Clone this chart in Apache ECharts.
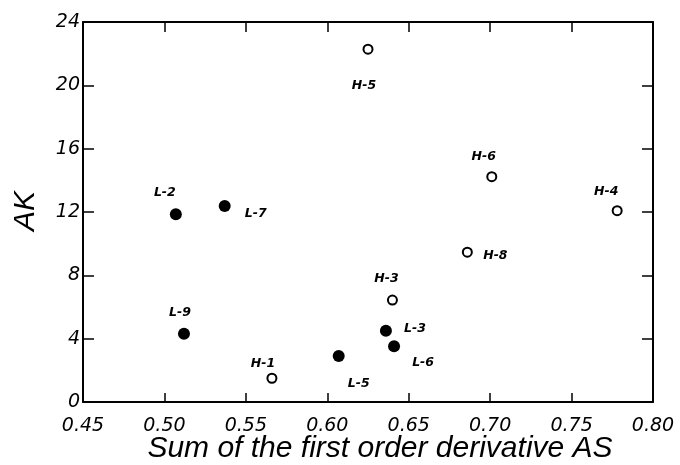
<!DOCTYPE html>
<html>
<head>
<meta charset="utf-8">
<script src="https://cdn.jsdelivr.net/npm/echarts@6/dist/echarts.min.js"></script>
<style>html,body{margin:0;padding:0;background:#fff}#c{width:680px;height:465px}</style>
</head>
<body>
<div id="c"></div>
<script>
// Data
const lNames = ['L-2', 'L-7', 'L-9', 'L-5', 'L-3', 'L-6'];
const lX = [0.507, 0.537, 0.512, 0.607, 0.636, 0.641];
const lY = [11.86, 12.38, 4.31, 2.90, 4.50, 3.52];

const hNames = ['H-5', 'H-6', 'H-4', 'H-8', 'H-3', 'H-1'];
const hX = [0.625, 0.701, 0.778, 0.686, 0.640, 0.566];
const hY = [22.28, 14.23, 12.08, 9.46, 6.44, 1.50];

const xTicks = ['0.45', '0.50', '0.55', '0.60', '0.65', '0.70', '0.75', '0.80'];
const yTicks = ['0', '4', '8', '12', '16', '20', '24'];

const xTitle = 'Sum of the first order derivative AS';
const yTitle = 'AK';

// label placement (style)
const labelOffsets = {
  'L-2': [-11, -21], 'L-7': [31, 8], 'L-9': [-4, -21], 'L-5': [20, 28], 'L-3': [29, -2], 'L-6': [29, 16],
  'H-5': [-4, 37], 'H-6': [-8, -20], 'H-4': [-11, -19], 'H-8': [28, 4], 'H-3': [-6, -21], 'H-1': [-9, -15]
};

function build(names, xs, ys) {
  return names.map((n, i) => ({
    name: n,
    value: [xs[i], ys[i]],
    label: { offset: labelOffsets[n] }
  }));
}

const labelStyle = {
  show: true,
  position: 'inside',
  formatter: p => p.name,
  fontFamily: 'DejaVu Sans',
  fontStyle: 'italic',
  fontWeight: 'bold',
  fontSize: 12.5,
  color: '#000'
};

const tickFont = { fontFamily: 'DejaVu Sans', fontStyle: 'italic', fontSize: 19, color: '#000' };
const lineStyle = { color: '#000', width: 2 };
const tickStyle = { color: '#000', width: 1.5 };

const chart = echarts.init(document.getElementById('c'), null, { renderer: 'canvas' });
chart.setOption({
  animation: false,
  backgroundColor: '#fff',
  grid: { left: 83, right: 27, top: 22, bottom: 63 },
  xAxis: [{
    type: 'value', min: 0.45, max: 0.80, interval: 0.05, position: 'bottom',
    axisLine: { show: true, lineStyle },
    axisTick: { show: true, inside: true, length: 9, lineStyle: tickStyle },
    axisLabel: Object.assign({ margin: 15, formatter: v => {
      const s = v.toFixed(2);
      return xTicks.includes(s) ? s : '';
    } }, tickFont),
    splitLine: { show: false }
  }, {
    type: 'value', min: 0.45, max: 0.80, interval: 0.05, position: 'top',
    axisLine: { show: true, onZero: false, lineStyle },
    axisTick: { show: true, inside: true, length: 10, lineStyle: tickStyle },
    axisLabel: { show: false },
    splitLine: { show: false }
  }],
  yAxis: [{
    type: 'value', min: 0, max: 24, interval: 4, position: 'left',
    axisLine: { show: true, lineStyle },
    axisTick: { show: true, inside: true, length: 11, lineStyle: tickStyle },
    axisLabel: Object.assign({ margin: 3, formatter: v => {
      const s = String(Math.round(v));
      return yTicks.includes(s) ? s : '';
    } }, tickFont),
    splitLine: { show: false }
  }, {
    type: 'value', min: 0, max: 24, interval: 4, position: 'right',
    axisLine: { show: true, onZero: false, lineStyle },
    axisTick: { show: true, inside: true, length: 11, lineStyle: tickStyle },
    axisLabel: { show: false },
    splitLine: { show: false }
  }],
  series: [{
    type: 'scatter',
    xAxisIndex: 0, yAxisIndex: 0,
    symbol: 'circle',
    symbolSize: 12,
    itemStyle: { color: '#000', opacity: 1 },
    label: labelStyle,
    data: build(lNames, lX, lY)
  }, {
    type: 'scatter',
    xAxisIndex: 0, yAxisIndex: 0,
    symbol: 'circle',
    symbolSize: 9,
    itemStyle: { color: '#fff', borderColor: '#000', borderWidth: 2, opacity: 1 },
    label: labelStyle,
    data: build(hNames, hX, hY)
  }],
  graphic: [{
    type: 'text',
    x: 380, y: 449,
    style: {
      text: xTitle, fill: '#000',
      font: 'italic 30px "Liberation Sans"',
      textAlign: 'center', textVerticalAlign: 'middle'
    }
  }, {
    type: 'text',
    x: 26, y: 211,
    rotation: Math.PI / 2,
    style: {
      text: yTitle, fill: '#000',
      font: 'italic 30px "Liberation Sans"',
      textAlign: 'center', textVerticalAlign: 'middle'
    }
  }]
});
</script>
</body>
</html>
